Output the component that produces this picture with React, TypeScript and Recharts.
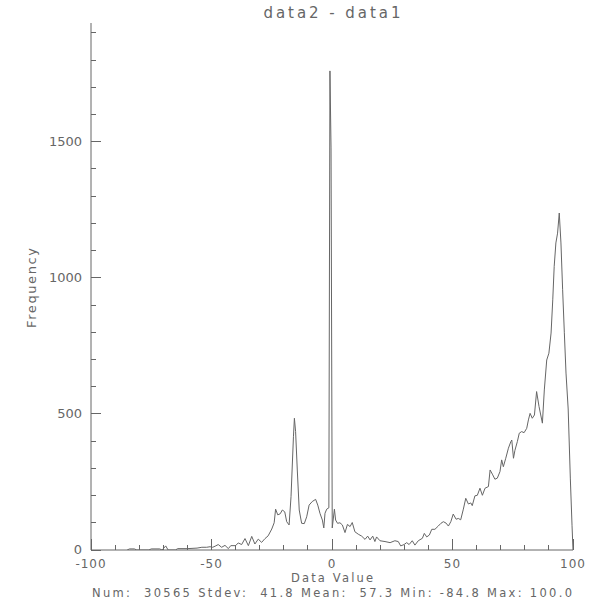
import React from 'react';
import { LineChart, Line, XAxis, YAxis } from 'recharts';

// histogram of data2 - data1
const binCenters = [
  -85, -84, -82, -81, -76, -75, -71.5, -70.5, -69, -68, -65, -64, -60, -56, -54, -52,
  -50.6, -49.5, -48.5, -47.2, -45.8, -44.4, -43, -42, -40, -38.9, -37.5, -36.1, -34.7,
  -33.3, -32, -30.6, -29.2, -27.8, -26.5, -25, -24, -23.4, -22.5, -21.5, -20.6, -19.6,
  -18.8, -17.8, -17, -16, -15.6, -15.1, -14.4, -13.6, -12.6, -11.5, -10.5, -9.5, -8.2,
  -6.8, -5.9, -5, -4, -3.4, -2.9, -2.2, -1.3, -0.85, -0.4, 0.1, 1, 1.5, 2.3, 3.3, 4.3,
  5.4, 6.4, 7.5, 8.4, 9.5, 10.9, 12.3, 13.7, 14.8, 15.8, 16.9, 17.8, 18.5, 19.9, 22,
  24.1, 26.1, 27.5, 28.5, 29.9, 31, 32, 33.3, 34.4, 35.8, 37.5, 38.3, 39.3, 40.4, 41.4,
  42.7, 44.1, 45.2, 46.2, 47.3, 48.3, 49.3, 50.3, 51.5, 52.4, 53.4, 54.5, 55.5, 56.6,
  57.6, 58.2, 59.3, 60.3, 61.4, 62.4, 63.5, 64.9, 65.6, 66.7, 67.6, 68.6, 69.7, 70.4,
  71.1, 72.1, 73.2, 74.2, 74.6, 75.3, 75.9, 76.9, 77.7, 78.7, 79.7, 80.8, 81.5, 82.2,
  83.1, 84, 84.9, 85.9, 87.3, 88.1, 89.1, 90, 90.9, 91.6, 92.2, 92.9, 93.6, 94.3, 95,
  95.7, 96.4, 97.1, 98, 98.9, 99.6, 100,
];

const frequencies = [
  0, 4, 4, 0, 0, 4, 4, 0, 15, 0, 0, 5, 5, 7, 10, 10,
  12, 10, 14, 20, 10, 17, 5, 16, 16, 26, 20, 42, 16,
  50, 22, 40, 28, 42, 52, 77, 100, 150, 129, 133, 147, 140,
  104, 92, 196, 416, 484, 435, 294, 147, 98, 97, 122, 165, 178,
  186, 165, 135, 110, 81, 135, 150, 155, 1760, 1477, 81, 150, 110, 98, 100, 92,
  64, 94, 86, 101, 67, 58, 51, 39, 51, 37, 51, 31, 48, 34, 31,
  27, 34, 31, 15, 20, 27, 20, 34, 18, 34, 43, 61, 48, 55, 76,
  76, 88, 98, 104, 99, 88, 104, 132, 113, 116, 111, 150, 190, 169,
  173, 163, 199, 201, 227, 201, 227, 233, 294, 276, 260, 264, 288, 331,
  306, 337, 374, 398, 404, 337, 366, 398, 429, 435, 431, 447, 478, 502,
  484, 496, 582, 527, 466, 588, 698, 723, 797, 919, 1042, 1128, 1164, 1238, 1128,
  956, 800, 650, 518, 261, 89, 0,
];

const xTicks = [-100, -90, -80, -70, -60, -50, -40, -30, -20, -10, 0, 10, 20, 30, 40, 50, 60, 70, 80, 90, 100];
const xLabels = [-100, -50, 0, 50, 100];
const yTicks = [0, 100, 200, 300, 400, 500, 600, 700, 800, 900, 1000, 1100, 1200, 1300, 1400, 1500, 1600, 1700, 1800, 1900];
const yLabels = [0, 500, 1000, 1500];

const INK = '#666666';
const FONT = '"DejaVu Sans", sans-serif';

const chartData = binCenters.map((v, i) => ({ v, f: frequencies[i] }));

const XTick = (props: any) => {
  const { x, y, payload } = props;
  const major = xLabels.includes(payload.value);
  return (
    <g>
      <line x1={x} x2={x} y1={y} y2={y - (major ? 11 : 5)} stroke={INK} shapeRendering="crispEdges" />
      {major && (
        <text x={x} y={y + 18} textAnchor="middle" fill={INK} fontSize={12} fontFamily={FONT}
          letterSpacing={1}>
          {payload.value}
        </text>
      )}
    </g>
  );
};

const YTick = (props: any) => {
  const { x, y, payload } = props;
  const major = yLabels.includes(payload.value);
  return (
    <g>
      <line x1={x} x2={x + (major ? 10 : 5)} y1={y} y2={y} stroke={INK} shapeRendering="crispEdges" />
      {major && (
        <text x={x - 9} y={y + 4} textAnchor="end" fill={INK} fontSize={13} fontFamily={FONT}>
          {payload.value}
        </text>
      )}
    </g>
  );
};

const App: React.FC = () => {
  return (
    <div style={{ position: 'absolute', left: 0, top: 0, width: 600, height: 600, background: '#fff' }}>
      <LineChart width={600} height={600} data={chartData} margin={{ top: 23, right: 27, bottom: 0, left: 0 }}>
        <XAxis
          type="number"
          dataKey="v"
          domain={[-100, 100]}
          ticks={xTicks}
          interval={0}
          allowDataOverflow
          height={50}
          tickSize={0}
          tickMargin={0}
          tickLine={false}
          tick={<XTick />}
          stroke={INK}
        />
        <YAxis
          type="number"
          dataKey="f"
          domain={[0, 1936]}
          ticks={yTicks}
          interval={0}
          allowDataOverflow
          width={91}
          tickSize={0}
          tickMargin={0}
          tickLine={false}
          tick={<YTick />}
          stroke={INK}
        />
        <Line type="linear" dataKey="f" stroke={INK} strokeWidth={1} dot={false} isAnimationActive={false} />
      </LineChart>
      <svg width={600} height={600} style={{ position: 'absolute', left: 0, top: 0, pointerEvents: 'none' }}>
        <g fill={INK} fontFamily={FONT}>
          <text x={332} y={18} fontSize={15} textAnchor="middle" textLength={137} lengthAdjust="spacing">data2 - data1</text>
          <text x={332} y={582} fontSize={11.5} textAnchor="middle" textLength={82} lengthAdjust="spacing">Data Value</text>
          <text x={332} y={597} fontSize={11.5} textAnchor="middle" textLength={480} lengthAdjust="spacing" xmlSpace="preserve">
            Num:  30565 Stdev:  41.8 Mean:  57.3 Min: -84.8 Max: 100.0
          </text>
          <text x={36} y={288} fontSize={13} textAnchor="middle" transform="rotate(-90 36 288)" textLength={80} lengthAdjust="spacing">
            Frequency
          </text>
        </g>
      </svg>
    </div>
  );
};

export default App;
